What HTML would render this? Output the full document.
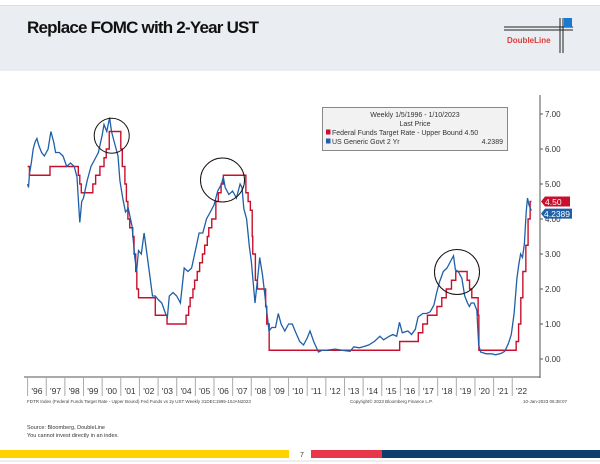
<!DOCTYPE html>
<html><head><meta charset="utf-8"><style>
body{margin:0;width:600px;height:464px;background:#fff;overflow:hidden;font-family:"Liberation Sans",sans-serif}
</style></head><body>
<svg width="600" height="464" viewBox="0 0 600 464" style="position:absolute;left:0;top:0">
<rect x="0" y="5" width="600" height="66" fill="#eaedf2"/>
<line x1="0" y1="5.5" x2="600" y2="5.5" stroke="#d8dce3"/>
<text x="27" y="33" font-size="17" font-weight="bold" fill="#111" textLength="232">Replace FOMC with 2-Year UST</text>
<g>
<line x1="504" y1="27" x2="573" y2="27" stroke="#222" stroke-width="1"/>
<line x1="504" y1="30" x2="573" y2="30" stroke="#222" stroke-width="1"/>
<line x1="560" y1="18" x2="560" y2="53" stroke="#222" stroke-width="1"/>
<line x1="563" y1="18" x2="563" y2="53" stroke="#222" stroke-width="1"/>
<rect x="564" y="18" width="8" height="9" fill="#1a7ad0"/>
<text x="507" y="43" font-size="8" font-weight="bold" fill="#e23a3a">DoubleLine</text>
</g>
<g id="chart"></g>
<text x="27" y="403" font-size="4.5" fill="#444">FDTR Index (Federal Funds Target Rate - Upper Bound) Fed Funds vs 2y UST  Weekly 31DEC1995-10JAN2023</text>
<text x="350" y="403" font-size="4.5" fill="#444">Copyright© 2023 Bloomberg Finance L.P.</text>
<text x="523" y="403" font-size="4.5" fill="#444">10-Jan-2023 06:38:07</text>
<text x="27" y="429" font-size="5.5" fill="#333">Source: Bloomberg, DoubleLine</text>
<text x="27" y="437" font-size="5.5" fill="#333">You cannot invest directly in an index.</text>
<rect x="0" y="450" width="289" height="8" fill="#ffd200"/>
<text x="300" y="457" font-size="7" fill="#333">7</text>
<rect x="311" y="450" width="72" height="8" fill="#e8374a"/>
<rect x="382" y="450" width="218" height="8" fill="#0f3e6e"/>
<line x1="0" y1="461" x2="600" y2="461" stroke="#ddd"/>
</svg>
<script>
const yearLabels=["'96","'97","'98","'99","'00","'01","'02","'03","'04","'05","'06","'07","'08","'09","'10","'11","'12","'13","'14","'15","'16","'17","'18","'19","'20","'21","'22"];
const yTicks=[0,1,2,3,4,5,6,7];
const fedYears=[1996.0,1996.1,1997.2,1998.72,1998.8,1998.88,1999.5,1999.65,1999.88,2000.1,2000.22,2000.38,2001.0,2001.08,2001.22,2001.3,2001.38,2001.48,2001.64,2001.71,2001.8,2001.86,2001.95,2002.85,2003.48,2004.5,2004.64,2004.72,2004.87,2004.96,2005.1,2005.23,2005.38,2005.5,2005.64,2005.72,2005.88,2006.1,2006.23,2006.38,2006.5,2007.71,2007.83,2007.95,2008.05,2008.08,2008.22,2008.33,2008.77,2008.83,2008.96,2015.96,2016.96,2017.2,2017.45,2017.96,2018.22,2018.46,2018.74,2018.97,2019.58,2019.71,2019.83,2020.17,2020.21,2022.21,2022.34,2022.46,2022.57,2022.73,2022.85,2022.96,2023.03];
const fedRates=[5.5,5.25,5.5,5.25,5.0,4.75,5.0,5.25,5.5,5.75,6.0,6.5,6.0,5.5,5.0,4.5,4.0,3.75,3.5,3.0,2.5,2.0,1.75,1.25,1.0,1.25,1.5,1.75,2.0,2.25,2.5,2.75,3.0,3.25,3.5,3.75,4.0,4.5,4.75,5.0,5.25,4.75,4.5,4.25,3.5,3.0,2.25,2.0,1.5,1.0,0.25,0.5,0.75,1.0,1.25,1.5,1.75,2.0,2.25,2.5,2.25,2.0,1.75,1.25,0.25,0.5,1.0,1.75,2.5,3.25,4.0,4.5,4.5];
const ustYears=[1996.0,1996.05,1996.1,1996.2,1996.3,1996.4,1996.5,1996.6,1996.75,1996.9,1997.1,1997.25,1997.4,1997.5,1997.7,1997.9,1998.1,1998.3,1998.5,1998.65,1998.75,1998.8,1998.9,1999.0,1999.2,1999.4,1999.6,1999.8,2000.0,2000.1,2000.25,2000.4,2000.5,2000.7,2000.85,2000.95,2001.1,2001.25,2001.4,2001.6,2001.75,2001.85,2001.95,2002.1,2002.25,2002.35,2002.5,2002.7,2002.85,2003.0,2003.2,2003.4,2003.5,2003.6,2003.8,2004.0,2004.2,2004.4,2004.6,2004.8,2005.0,2005.2,2005.4,2005.6,2005.8,2006.0,2006.2,2006.4,2006.5,2006.6,2006.8,2007.0,2007.2,2007.4,2007.5,2007.6,2007.75,2007.9,2008.0,2008.2,2008.4,2008.45,2008.6,2008.8,2008.95,2009.1,2009.3,2009.45,2009.6,2009.8,2010.0,2010.2,2010.35,2010.6,2010.8,2011.0,2011.15,2011.35,2011.6,2011.8,2012.0,2012.5,2012.9,2013.3,2013.5,2013.8,2014.0,2014.3,2014.6,2014.9,2015.1,2015.4,2015.6,2015.8,2015.95,2016.1,2016.4,2016.6,2016.8,2016.95,2017.2,2017.4,2017.6,2017.8,2017.95,2018.1,2018.3,2018.5,2018.7,2018.85,2018.95,2019.1,2019.3,2019.45,2019.6,2019.7,2019.8,2019.95,2020.1,2020.2,2020.3,2020.6,2020.9,2021.1,2021.4,2021.6,2021.8,2021.95,2022.1,2022.25,2022.35,2022.45,2022.55,2022.65,2022.75,2022.82,2022.9,2022.98,2023.02];
const ustValues=[5.0,4.9,5.3,5.6,6.0,6.2,6.3,6.1,5.9,5.8,6.0,6.5,6.2,5.9,5.9,5.8,5.5,5.6,5.5,5.2,4.3,3.9,4.5,4.6,5.1,5.5,5.7,5.9,6.4,6.7,6.5,6.9,6.5,6.1,5.8,5.1,4.6,4.2,4.3,3.8,2.9,2.5,3.1,3.0,3.6,3.2,2.6,1.8,1.8,1.7,1.6,1.3,1.2,1.8,1.9,1.8,1.6,2.6,2.5,2.6,3.1,3.6,3.6,4.0,4.2,4.4,4.8,5.0,5.2,4.9,4.7,4.8,4.6,5.0,4.9,4.3,4.0,3.2,2.8,1.6,2.6,2.9,2.4,1.5,0.8,0.9,0.9,1.3,1.0,0.8,1.0,1.0,0.8,0.5,0.4,0.6,0.8,0.5,0.2,0.25,0.25,0.28,0.25,0.22,0.35,0.32,0.35,0.4,0.5,0.65,0.55,0.65,0.7,0.65,1.05,0.75,0.8,0.7,0.85,1.2,1.3,1.3,1.35,1.55,1.9,2.2,2.5,2.6,2.8,2.95,2.55,2.5,2.3,1.8,1.6,1.5,1.6,1.6,1.4,0.4,0.2,0.15,0.15,0.12,0.16,0.22,0.45,0.7,1.3,2.3,2.7,3.0,2.9,3.3,4.2,4.6,4.4,4.3,4.2389];
const ns="http://www.w3.org/2000/svg";
const g=document.getElementById('chart');
const X0=27.6,XW=18.64,Y0=359,YU=35;
function xs(yr){return X0+(yr-1996)*XW;}
function ys(v){return Y0-v*YU;}
function mk(t,a){const e=document.createElementNS(ns,t);for(const k in a)e.setAttribute(k,a[k]);g.appendChild(e);return e;}
let ax=mk('line',{x1:540,y1:95,x2:540,y2:378,stroke:'#555','stroke-width':1});


let bx=mk('line',{x1:24,y1:377,x2:540,y2:377,stroke:'#555','stroke-width':1});


yTicks.forEach(v=>{
 let t=mk('line',{x1:540,y1:ys(v),x2:543,y2:ys(v),stroke:'#555'});
 
 
 let l=mk('text',{x:545,y:ys(v)+3,'font-size':8,fill:'#333'});l.textContent=v.toFixed(2);
 
 
});
yearLabels.forEach((s,i)=>{
 let t=mk('line',{x1:xs(1996+i),y1:377,x2:xs(1996+i),y2:396,stroke:'#aaa'});
 
 
 let l=mk('text',{x:xs(1996+i+0.5),y:394,'font-size':8.5,fill:'#333','text-anchor':'middle'});l.textContent=s;
 
 
});
let d='';fedYears.forEach((yr,i)=>{const x=xs(yr),y=ys(fedRates[i]);if(i==0)d='M'+x+' '+y;else d+=' H'+x+' V'+y;});
let fp=mk('path',{d:d,fill:'none',stroke:'#c8102e','stroke-width':1.4});


let d2=ustYears.map((yr,i)=>(i?'L':'M')+xs(yr).toFixed(1)+' '+ys(ustValues[i]).toFixed(1)).join(' ');
let up=mk('path',{d:d2,fill:'none',stroke:'#1f5fa8','stroke-width':1.3});


[[111.7,135.7,17.5],[222.5,180,22],[457,272,22.5]].forEach(c=>{
 let e=mk('circle',{cx:c[0],cy:c[1],r:c[2],fill:'none',stroke:'#111','stroke-width':1});
 
 
});
const lastFed=fedRates[fedRates.length-1],lastUst=ustValues[ustValues.length-1];
let r1=mk('path',{d:`M541 ${ys(lastFed)} l4 -5 h25 v10 h-25 z`,fill:'#c8102e'});


let t1=mk('text',{x:545,y:ys(lastFed)+3.5,'font-size':8.5,fill:'#fff'});t1.textContent=lastFed.toFixed(2);


let r2=mk('path',{d:`M541 ${ys(lastUst)+3} l4 -5 h27 v10 h-27 z`,fill:'#1f5fa8'});


let t2=mk('text',{x:544,y:ys(lastUst)+6.5,'font-size':8.5,fill:'#fff'});t2.textContent=String(lastUst);


let lg=mk('rect',{x:322.5,y:107.5,width:185,height:43,fill:'#f2f2f2',stroke:'#888'});


[['Weekly 1/5/1996 - 1/10/2023',415,117,'middle'],['Last Price',415,126,'middle']].forEach(a=>{
 let t=mk('text',{x:a[1],y:a[2],'font-size':7,fill:'#333','text-anchor':a[3]});t.textContent=a[0];
 
 
});
[['#c8102e','Federal Funds Target Rate - Upper Bound 4.50','',135,'legend-entry-fed'],['#1f5fa8','US Generic Govt 2 Yr','4.2389',144,'legend-entry-ust']].forEach(a=>{
 let s=mk('rect',{x:326,y:a[3]-5.5,width:4.5,height:5,fill:a[0]});
 
 
 let t=mk('text',{x:332,y:a[3],'font-size':7,fill:'#333'});t.textContent=a[1];
 
 
 if(a[2]){let v=mk('text',{x:503,y:a[3],'font-size':7,fill:'#333','text-anchor':'end'});v.textContent=a[2];
 
 }
});
</script>
</body></html>
